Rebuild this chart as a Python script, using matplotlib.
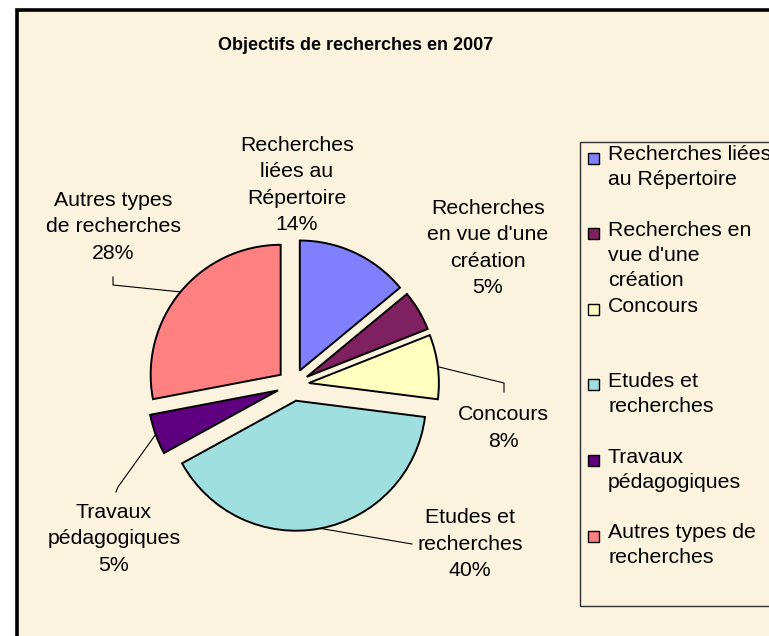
import numpy as np
import matplotlib.pyplot as plt
from matplotlib.patches import Rectangle

plt.rcParams['font.family'] = ['Liberation Sans', 'DejaVu Sans']

# donnees
categories = ["Recherches liées au Répertoire", "Recherches en vue d'une création",
              "Concours", "Etudes et recherches", "Travaux pédagogiques",
              "Autres types de recherches"]
values = [14, 5, 8, 40, 5, 28]
colors = ['#8080FF', '#7F2060', '#FFFFC0', '#A0DFE0', '#5F0080', '#FF8080']
pie_labels = ["Recherches\nliées au\nRépertoire", "Recherches\nen vue d'une\ncréation",
              "Concours", "Etudes et\nrecherches", "Travaux\npédagogiques",
              "Autres types\nde recherches"]
legend_labels = ["Recherches liées\nau Répertoire", "Recherches en\nvue d'une\ncréation",
                 "Concours", "Etudes et\nrecherches", "Travaux\npédagogiques",
                 "Autres types de\nrecherches"]
title = "Objectifs de recherches en 2007"

W, H = 769, 636
bg = '#FCF3DF'


def Y(py):
    return H - py


fig = plt.figure(figsize=(W / 100, H / 100), dpi=100)
fig.patch.set_facecolor('white')
ax = fig.add_axes([0, 0, 1, 1])

# cadre
ax.add_patch(Rectangle((16.5, -20), W + 40, Y(9.5) + 20, facecolor=bg,
                       edgecolor='black', linewidth=2.6, zorder=0))

# explode en unites absolues (pixels ici)
wedges, _ = ax.pie(values, colors=colors, startangle=90, counterclock=False,
                   explode=[16] * len(values), radius=130, center=(293, Y(385)),
                   wedgeprops=dict(edgecolor='black', linewidth=1.4))

# etiquettes (position du centre, coude du trait de rappel)
label_pos = [(297, 185), (488, 248), (503, 428), (470, 544), (114, 539), (113, 227)]
leaders = [None, None,
           [(504, 383), (504, 392)],
           [(412, 544)],
           [(118, 487), (116, 492)],
           [(113, 285), (113, 277)]]

fs = 15.3
for w, v, lab, pos, lead in zip(wedges, values, pie_labels, label_pos, leaders):
    ax.text(pos[0], Y(pos[1]), "%s\n%d%%" % (lab, v), ha='center', va='center',
            fontsize=fs, linespacing=1.5, color='black')
    if lead is not None:
        th = np.deg2rad((w.theta1 + w.theta2) / 2)
        x0 = w.center[0] + w.r * np.cos(th)
        y0 = w.center[1] + w.r * np.sin(th)
        xs = [x0] + [p[0] for p in lead]
        ys = [y0] + [Y(p[1]) for p in lead]
        ax.plot(xs, ys, color='black', linewidth=0.8)

ax.text(218, Y(45), title, ha='left', va='center', fontsize=13, fontweight='bold')

# legende
ax.add_patch(Rectangle((580, Y(606)), 220, 606 - 142, facecolor='none',
                       edgecolor='#303030', linewidth=1.0, zorder=3))
for i, (lab, c) in enumerate(zip(legend_labels, colors)):
    py = 158 + i * 75.6
    ax.add_patch(Rectangle((588, Y(py) - 5.5), 11, 11, facecolor=c,
                           edgecolor='black', linewidth=1.0, zorder=4))
    ax.text(608, Y(py - 12.5), lab, ha='left', va='top', fontsize=fs,
            linespacing=1.38, color='black')

ax.set_xlim(0, W)
ax.set_ylim(0, H)
ax.set_aspect('equal')
ax.axis('off')

fig.savefig('out.png', dpi=100, facecolor='white')
